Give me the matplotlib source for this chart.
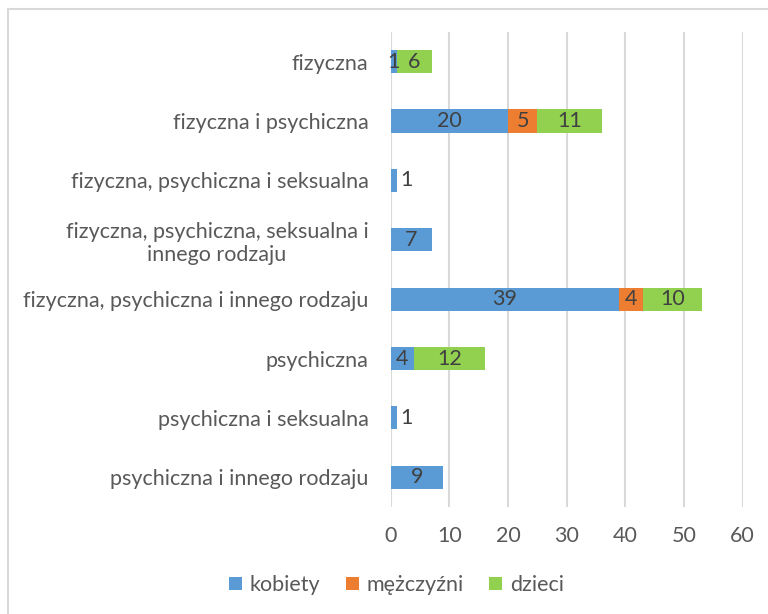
import matplotlib
matplotlib.use("Agg")
import matplotlib.pyplot as plt
from matplotlib.patches import Rectangle

# categories top to bottom as in the chart
categories = [
    "fizyczna",
    "fizyczna i psychiczna",
    "fizyczna, psychiczna i seksualna",
    "fizyczna, psychiczna, seksualna i\ninnego rodzaju",
    "fizyczna, psychiczna i innego rodzaju",
    "psychiczna",
    "psychiczna i seksualna",
    "psychiczna i innego rodzaju",
]
kobiety = [1, 20, 1, 7, 39, 4, 1, 9]
mezczyzni = [0, 5, 0, 0, 4, 0, 0, 0]
dzieci = [6, 11, 0, 0, 10, 12, 0, 0]
series_names = ["kobiety", "mężczyźni", "dzieci"]
colors = ["#5B9BD5", "#ED7D31", "#92D050"]
x_ticks = [0, 10, 20, 30, 40, 50, 60]

plt.rcParams['font.family'] = ['Lato', 'DejaVu Sans']
fs = 15.5

fig = plt.figure(figsize=(7.68, 6.14), dpi=100)
ax = fig.add_axes([0.5087, 0.1743, 0.4583, 0.7736])

ypos = list(range(len(categories)))
left = [0] * len(categories)
series = [kobiety, mezczyzni, dzieci]
for name, vals, col in zip(series_names, series, colors):
    ax.barh(ypos, vals, left=left, height=0.39, color=col, label=name, zorder=3)
    for i, (v, l) in enumerate(zip(vals, left)):
        if v == 0:
            continue
        only_one = sum(1 for s in series if s[i] > 0) == 1
        if only_one and v < 2:
            ax.text(l + v + 0.6, i, str(v), ha='left', va='center', fontsize=fs, color="#404040", zorder=4)
        else:
            ax.text(l + v / 2, i, str(v), ha='center', va='center', fontsize=fs, color="#404040", zorder=4)
    left = [a + b for a, b in zip(left, vals)]

ax.set_xlim(0, 60)
ax.set_ylim(len(categories) - 0.5, -0.5)
ax.set_xticks(x_ticks)
ax.set_yticks(ypos)
ax.set_yticklabels(categories, multialignment='center')
ax.tick_params(axis='both', length=0, labelsize=fs, colors="#595959")
ax.tick_params(axis='y', pad=16)
ax.tick_params(axis='x', pad=14)
ax.grid(axis='x', color="#D9D9D9", linewidth=1.5, zorder=0)
for s in ax.spines.values():
    s.set_visible(False)

ax.legend(loc='center', bbox_to_anchor=(0.516, 0.047), bbox_transform=fig.transFigure,
          ncol=3, frameon=False, fontsize=fs, handlelength=0.6, handleheight=0.6,
          handletextpad=0.35, columnspacing=1.2, labelcolor="#595959")

# chart border (light gray), right and bottom edges cut off in the original
fig.patches.append(Rectangle((7.5 / 768, -0.01), 1.0, 1 - 9 / 614 + 0.01,
                             transform=fig.transFigure, fill=False,
                             edgecolor="#D9D9D9", linewidth=1.5))

fig.savefig("out.png", dpi=100)
